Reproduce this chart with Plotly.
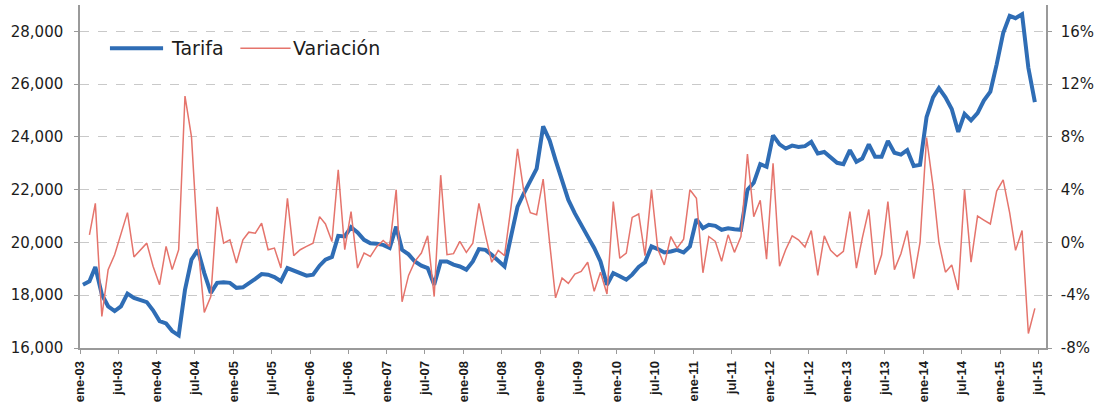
import pandas as pd
import plotly.graph_objects as go

# Monthly fare (Tarifa), ene-03 .. jun-15
tarifa = [
    18400, 18530, 19070, 18030, 17580, 17400, 17580, 18060, 17900, 17840, 17740, 17430,
    17020, 16930, 16640, 16480, 18200, 19350, 19720, 18840, 18090, 18470, 18490, 18470,
    18280, 18300, 18440, 18620, 18800, 18780, 18690, 18530, 19030, 18930, 18820, 18740,
    18780, 19120, 19350, 19450, 20250, 20230, 20580, 20380, 20100, 19970, 19950, 19910,
    19790, 20600, 19720, 19550, 19280, 19120, 19030, 18400, 19280, 19280, 19160, 19090,
    18970, 19280, 19750, 19720, 19530, 19320, 19090, 20230, 21360, 21860, 22370, 22800,
    24400, 23870, 23120, 22370, 21610, 21100, 20700, 20230, 19790, 19280, 18400, 18840,
    18720, 18590, 18780, 19070, 19250, 19850, 19750, 19620, 19660, 19720, 19620, 19850,
    20880, 20540, 20670, 20630, 20480, 20540, 20500, 20480, 21990, 22260, 22970, 22870,
    24060, 23720, 23560, 23670, 23620, 23650, 23810, 23370, 23430, 23250, 23020, 22970,
    23500, 23060, 23180, 23720, 23250, 23250, 23850, 23400, 23330, 23500, 22900, 22940,
    24750, 25500, 25850, 25500, 25060, 24190, 24875, 24625, 24900, 25375, 25720, 26750,
    27940, 28590, 28500, 28650, 26620, 25320,
]

# Monthly variation (%), feb-03 .. jun-15
variacion = [
    0.58, 2.97, -5.6, -2.06, -0.93, 0.7, 2.26, -1.1, -0.55, -0.05, -1.8,
    -3.2, -0.3, -2.06, -0.55, 11.1, 8.0, -0.05, -5.3, -4.1, 2.7, -0.05, 0.2,
    -1.56, 0.2, 0.78, 0.7, 1.46, -0.55, -0.43, -1.94, 3.35, -1.0, -0.55, -0.3,
    -0.05, 1.96, 1.4, 0.08, 5.5, -0.55, 2.34, -1.94, -0.8, -1.06, -0.3, 0.15,
    -0.3, 4.0, -4.5, -2.5, -1.43, -0.8, 0.5, -4.1, 5.1, -0.93, -0.85, 0.08,
    -0.75, -0.05, 2.97, 0.58, -1.5, -0.6, -1.0, 2.7, 7.1, 3.85, 2.26, 2.1,
    4.8, -0.05, -4.2, -2.7, -3.1, -2.4, -2.2, -1.5, -3.7, -2.26, -3.9, 3.1,
    -1.2, -0.8, 1.9, 2.16, -1.0, 4.0, -0.5, -1.7, 0.45, -0.43, 0.25, 4.0,
    3.35, -2.3, 0.45, 0.08, -1.43, 0.58, -0.75, 0.45, 6.7, 1.96, 3.2, -1.26,
    6.0, -1.8, -0.55, 0.5, 0.2, -0.35, 0.9, -2.5, 0.5, -0.6, -1.06, -0.68,
    2.34, -1.94, 0.33, 2.5, -2.44, -0.93, 3.1, -2.06, -0.85, 0.9, -2.75, 0.0,
    7.95, 4.25, 0.0, -2.25, -1.7, -3.6, 4.0, -1.5, 2.0, 1.7, 1.4, 3.9,
    4.75, 2.25, -0.6, 0.9, -6.9, -5.0,
]

# Axis ticks
x_tick_dates = pd.date_range("2003-01-01", "2015-07-01", freq="6MS")
x_tick_text = [("ene-" if d.month == 1 else "jul-") + d.strftime("%y") for d in x_tick_dates]
left_ticks = [16000, 18000, 20000, 22000, 24000, 26000, 28000]
right_ticks = [-8, -4, 0, 4, 8, 12, 16]
right_tick_text = [f"{v}%" for v in right_ticks]

meses = pd.date_range("2003-01-01", periods=len(tarifa), freq="MS") + pd.Timedelta(days=14)
meses_var = meses[1:]

BLUE = "#2F6DB5"
RED = "#E5746C"
TEXT = "#1c1c1c"
AXIS = "#9a9a9a"

fig = go.Figure()
fig.add_trace(go.Scatter(x=meses, y=tarifa, mode="lines", name="Tarifa",
                         line=dict(color=BLUE, width=4), showlegend=False))
fig.add_trace(go.Scatter(x=meses_var, y=variacion, mode="lines", name="Variación",
                         line=dict(color=RED, width=1.5), yaxis="y2", showlegend=False))

tick_font = dict(family="DejaVu Sans", size=15, color=TEXT)

fig.update_layout(
    width=1104, height=406,
    margin=dict(l=80, r=58, t=5, b=58),
    paper_bgcolor="white", plot_bgcolor="white",
    xaxis=dict(
        range=["2003-01-01", "2015-08-07"],
        tickvals=x_tick_dates, ticktext=[f"<b>{t}</b>" for t in x_tick_text],
        tickangle=-90,
        tickfont=dict(family="Liberation Sans", size=13, color=TEXT),
        showgrid=False, showline=True, linecolor=AXIS, linewidth=1.5,
        ticks="outside", ticklen=4, tickcolor=AXIS, zeroline=False,
        ticklabelstandoff=2, automargin=False,
    ),
    yaxis=dict(
        range=[16000, 29000], tickvals=left_ticks, tickformat=",",
        tickfont=tick_font, showline=True, linecolor=AXIS, linewidth=1.5,
        ticks="outside", ticklen=4, tickcolor=AXIS,
        showgrid=True, gridcolor="#c9c9c9", griddash="dash", gridwidth=1,
        zeroline=False, ticklabelstandoff=8, automargin=False,
    ),
    yaxis2=dict(
        range=[-8, 18], tickvals=right_ticks, ticktext=right_tick_text,
        overlaying="y", side="right", tickfont=tick_font,
        showline=True, linecolor=AXIS, linewidth=1.5,
        ticks="outside", ticklen=4, tickcolor=AXIS,
        showgrid=False, zeroline=False, ticklabelstandoff=6, automargin=False,
    ),
)

# Legend drawn inside the plot area, top left
legend_y = 0.874
fig.add_shape(type="line", xref="paper", yref="paper", x0=0.031, x1=0.086,
              y0=legend_y, y1=legend_y, line=dict(color=BLUE, width=4))
fig.add_annotation(xref="paper", yref="paper", x=0.092, y=legend_y, text="Tarifa",
                   showarrow=False, xanchor="left", yanchor="middle",
                   font=dict(family="DejaVu Sans", size=19, color=TEXT))
fig.add_shape(type="line", xref="paper", yref="paper", x0=0.166, x1=0.218,
              y0=legend_y, y1=legend_y, line=dict(color=RED, width=1.5))
fig.add_annotation(xref="paper", yref="paper", x=0.218, y=legend_y, text="Variación",
                   showarrow=False, xanchor="left", yanchor="middle",
                   font=dict(family="DejaVu Sans", size=19, color=TEXT))

fig.write_html("out.html")
